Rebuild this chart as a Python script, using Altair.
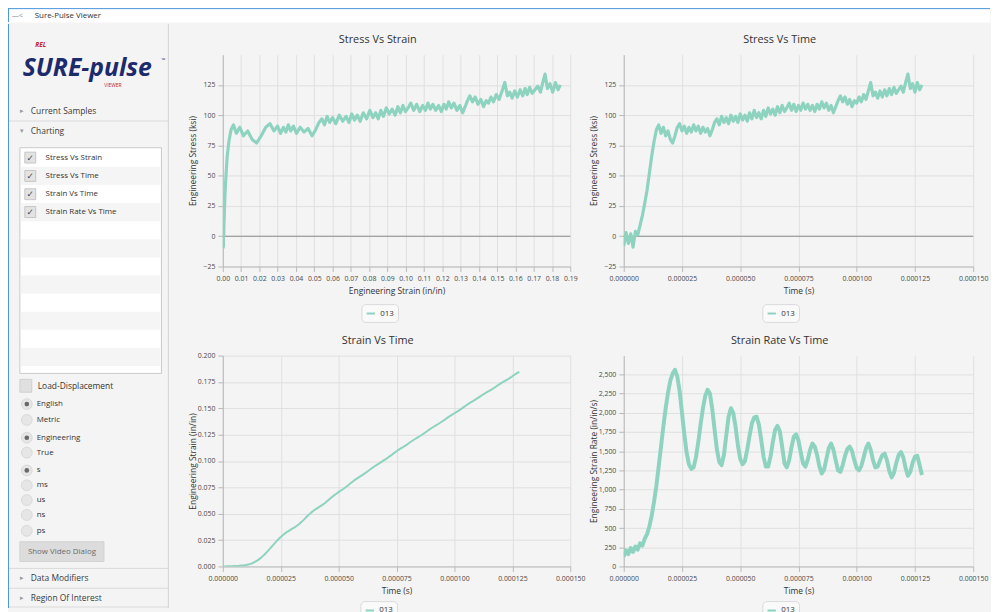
import altair as alt
import pandas as pd

FONT = "Open Sans"
SYMBOL_FONT = "DejaVu Sans"
LINE_COLOR = "#8dd3bf"
BG = "#f4f4f4"

series_name = "013"

# ---------------- data ----------------
time_us = [
    0, 1, 2, 3, 4, 5, 6, 7, 8, 9,
    10, 11, 12, 13, 14, 15, 16, 17, 18, 19,
    20, 21, 22, 23, 24, 25, 26, 27, 28, 29,
    30, 31, 32, 33, 34, 35, 36, 37, 38, 39,
    40, 41, 42, 43, 44, 45, 46, 47, 48, 49,
    50, 51, 52, 53, 54, 55, 56, 57, 58, 59,
    60, 61, 62, 63, 64, 65, 66, 67, 68, 69,
    70, 71, 72, 73, 74, 75, 76, 77, 78, 79,
    80, 81, 82, 83, 84, 85, 86, 87, 88, 89,
    90, 91, 92, 93, 94, 95, 96, 97, 98, 99,
    100, 101, 102, 103, 104, 105, 106, 107, 108, 109,
    110, 111, 112, 113, 114, 115, 116, 117, 118, 119,
    120, 121, 122, 123, 124, 125, 126, 127, 128,
]

stress_ksi = [
    -8, 3, -6, 2, -9, 4, 1, 9, 17, 27,
    38, 52, 66, 78, 88, 92, 85, 90, 83, 87,
    80, 77, 83, 90, 93, 87, 91, 85, 90, 86,
    92, 87, 91, 85, 90, 86, 89, 83, 88, 94,
    97, 92, 99, 94, 98, 93, 100, 95, 99, 94,
    101, 96, 100, 95, 102, 97, 104, 98, 102, 97,
    104, 99, 106, 101, 105, 100, 107, 102, 108, 103,
    106, 110, 104, 109, 103, 108, 104, 110, 105, 109,
    104, 108, 103, 109, 105, 111, 106, 110, 104, 108,
    102, 107, 112, 116, 111, 115, 109, 113, 107, 112,
    110, 115, 111, 117, 113, 120, 127, 116, 119, 114,
    120, 115, 121, 116, 122, 117, 123, 118, 121, 124,
    119, 127, 134, 122, 126, 119, 127, 121, 125,
]

strain_in = [
    0.0000, 0.0000, 0.0001, 0.0002, 0.0003, 0.0004, 0.0005, 0.0006, 0.0008, 0.0010,
    0.0013, 0.0018, 0.0024, 0.0033, 0.0045, 0.0058, 0.0074, 0.0093, 0.0113, 0.0136,
    0.0160, 0.0185, 0.0210, 0.0235, 0.0258, 0.0280, 0.0299, 0.0316, 0.0331, 0.0345,
    0.0358, 0.0371, 0.0386, 0.0403, 0.0423, 0.0444, 0.0466, 0.0488, 0.0508, 0.0526,
    0.0542, 0.0556, 0.0570, 0.0584, 0.0600, 0.0618, 0.0637, 0.0656, 0.0674, 0.0690,
    0.0705, 0.0720, 0.0735, 0.0751, 0.0768, 0.0786, 0.0804, 0.0821, 0.0836, 0.0850,
    0.0864, 0.0878, 0.0894, 0.0910, 0.0926, 0.0942, 0.0957, 0.0971, 0.0985, 0.0999,
    0.1013, 0.1028, 0.1044, 0.1060, 0.1077, 0.1093, 0.1108, 0.1122, 0.1135, 0.1149,
    0.1164, 0.1180, 0.1195, 0.1209, 0.1222, 0.1235, 0.1249, 0.1264, 0.1280, 0.1296,
    0.1311, 0.1325, 0.1338, 0.1351, 0.1365, 0.1380, 0.1395, 0.1411, 0.1426, 0.1440,
    0.1453, 0.1466, 0.1480, 0.1495, 0.1511, 0.1527, 0.1542, 0.1556, 0.1569, 0.1582,
    0.1596, 0.1611, 0.1626, 0.1640, 0.1653, 0.1665, 0.1678, 0.1692, 0.1707, 0.1722,
    0.1737, 0.1750, 0.1762, 0.1775, 0.1789, 0.1804, 0.1819, 0.1833, 0.1846,
]

strain_rate = [
    130, 210, 160, 240, 190, 260, 220, 300, 270, 360,
    420, 520, 660, 840, 1050, 1300, 1560, 1820, 2060, 2260,
    2420, 2510, 2560, 2470, 2280, 2000, 1720, 1480, 1330, 1270,
    1290, 1420, 1620, 1850, 2060, 2220, 2300, 2250, 2050, 1780,
    1520, 1360, 1320, 1450, 1700, 1950, 2060, 2000, 1820, 1580,
    1400, 1330, 1370, 1520, 1700, 1860, 1940, 1950, 1850, 1650,
    1430, 1300, 1300, 1430, 1620, 1780, 1830, 1760, 1560, 1340,
    1290, 1380, 1550, 1690, 1720, 1640, 1480, 1340, 1300, 1390,
    1520, 1600, 1560, 1450, 1300, 1210, 1260, 1400, 1540, 1600,
    1520, 1380, 1250, 1230, 1320, 1440, 1530, 1560, 1500, 1380,
    1280, 1250, 1310, 1420, 1540, 1600, 1520, 1380, 1290, 1300,
    1380, 1450, 1470, 1380, 1240, 1160, 1220, 1350, 1450, 1490,
    1420, 1280, 1180, 1230, 1350, 1430, 1440, 1320, 1190,
]

strain_ticks = [0.00, 0.01, 0.02, 0.03, 0.04, 0.05, 0.06, 0.07, 0.08, 0.09,
                0.10, 0.11, 0.12, 0.13, 0.14, 0.15, 0.16, 0.17, 0.18, 0.19]
time_ticks = [0.0, 0.000025, 0.00005, 0.000075, 0.0001, 0.000125, 0.00015]
stress_ticks = [-25, 0, 25, 50, 75, 100, 125]
strain_y_ticks = [0.0, 0.025, 0.05, 0.075, 0.1, 0.125, 0.15, 0.175, 0.2]
rate_ticks = [0, 250, 500, 750, 1000, 1250, 1500, 1750, 2000, 2250, 2500]

chart_titles = ["Stress Vs Strain", "Stress Vs Time", "Strain Vs Time", "Strain Rate Vs Time"]

# sidebar contents
sb_headers = ["Current Samples", "Charting", "Data Modifiers", "Region Of Interest"]
sb_header_open = [False, True, False, False]
sb_chart_items = ["Stress Vs Strain", "Stress Vs Time", "Strain Vs Time", "Strain Rate Vs Time"]
sb_options = ["English", "Metric", "Engineering", "True", "s", "ms", "us", "ns", "ps"]
sb_option_on = [True, False, True, False, True, False, False, False, False]
window_title = "Sure-Pulse Viewer"

samples = pd.DataFrame({
    "t": [v / 1e6 for v in time_us],
    "stress": stress_ksi,
    "strain": strain_in,
    "rate": strain_rate,
    "sample": series_name,
})


# ---------------- chart panels ----------------
def panel(xf, yf, x_title, y_title, x_dom, y_dom, x_vals, y_vals, x_fmt, y_fmt,
          title, w, h, legend_xy, zero=False, sw=2.0, title_offset=10):
    xenc = alt.X(f"{xf}:Q", title=x_title,
                 scale=alt.Scale(domain=x_dom, nice=False, zero=False),
                 axis=alt.Axis(values=x_vals, format=x_fmt, labelOverlap=False,
                               labelFlush=False, labelPadding=3, titlePadding=5))
    yenc = alt.Y(f"{yf}:Q", title=y_title,
                 scale=alt.Scale(domain=y_dom, nice=False, zero=False),
                 axis=alt.Axis(values=y_vals, format=y_fmt, labelOverlap=False,
                               labelFlush=False, labelPadding=3,
                               minExtent=22, maxExtent=22, titlePadding=4))
    line = alt.Chart(samples).mark_line(strokeWidth=sw, clip=True, strokeJoin="round").encode(
        x=xenc,
        y=yenc,
        order=alt.Order("t:Q"),
        color=alt.Color("sample:N",
                        scale=alt.Scale(domain=[series_name], range=[LINE_COLOR]),
                        legend=alt.Legend(title=None, orient="none",
                                          legendX=legend_xy[0], legendY=legend_xy[1],
                                          direction="horizontal", symbolType="stroke",
                                          symbolStrokeWidth=2, symbolSize=70,
                                          labelFont=FONT, labelFontSize=8, labelColor="#333333",
                                          fillColor="#fafafa", strokeColor="#dadada",
                                          cornerRadius=4, padding=4)),
    )
    layers = []
    if zero:
        zdf = pd.DataFrame({yf: [0]})
        layers.append(alt.Chart(zdf).mark_rule(color="#8c8c8c", strokeWidth=1.2).encode(y=yenc))
    layers.append(line)
    return alt.layer(*layers).properties(
        width=w, height=h,
        title=alt.TitleParams(text=title, anchor="middle", frame="group", dx=-19, offset=title_offset,
                              font=FONT, fontSize=11, fontWeight="normal", color="#333333"),
        view=alt.ViewBackground(stroke="transparent"),
    )


c1 = panel("strain", "stress", "Engineering Strain (in/in)", "Engineering Stress (ksi)",
           [0, 0.19], [-25, 150], strain_ticks, stress_ticks, ".2f", "d",
           chart_titles[0], 351, 214, (140, 252), zero=True, sw=3.2)
c2 = panel("t", "stress", "Time (s)", "Engineering Stress (ksi)",
           [0, 0.00015], [-25, 150], time_ticks, stress_ticks, ".6f", "d",
           chart_titles[1], 353, 214, (140, 252), zero=True, sw=3.2)
c3 = panel("t", "strain", "Time (s)", "Engineering Strain (in/in)",
           [0, 0.00015], [0, 0.2], time_ticks, strain_y_ticks, ".6f", ".3f",
           chart_titles[2], 351, 213, (139, 248), sw=2.0, title_offset=6)
c4 = panel("t", "rate", "Time (s)", "Engineering Strain Rate (in/in/s)",
           [0, 0.00015], [0, 2745], time_ticks, rate_ticks, ".6f", ",d",
           chart_titles[3], 353, 213, (140, 248), sw=4.0)

grid = alt.concat(c1, c2, c3, c4, columns=2, bounds="flush",
                  spacing={"row": 90, "column": 54}).resolve_scale(
    color="independent").resolve_legend(color="independent")

# ---------------- sidebar (UI chrome) ----------------
SB_W, SB_H = 162, 590
SB_ABOVE = 31          # part of the sidebar drawn above the first chart row's plot area
header_y = [88, 108, 560, 580]
item_y = [135, 153.5, 172, 190]
option_y = [384, 400, 418, 433, 451, 466, 481, 496, 512]


def sbx(f="x"):
    return alt.X(f"{f}:Q", scale=alt.Scale(domain=[0, SB_W], range=[0, SB_W], nice=False, zero=False), axis=None)


def sby(f="y"):
    return alt.Y(f"{f}:Q", scale=alt.Scale(domain=[0, SB_H], range=[-SB_ABOVE, SB_H - SB_ABOVE],
                                           nice=False, zero=False), axis=None)


rects = [dict(x=12, x2=155, y=125, y2=353, fill="#ffffff", stroke="#c9c9c9")]
row_h = 18.3
for i in range(12):
    if i % 2 == 1:
        top = 126 + i * row_h
        rects.append(dict(x=13, x2=154, y=top, y2=min(top + row_h, 352), fill="#f5f5f5", stroke="transparent"))
for yy in item_y:
    rects.append(dict(x=17, x2=28, y=yy - 5.5, y2=yy + 5.5, fill="#e3e3e3", stroke="#c4c4c4"))
rects.append(dict(x=12, x2=24, y=359, y2=372, fill="#e0e0e0", stroke="#d0d0d0"))
rects.append(dict(x=12, x2=97, y=523, y2=543, fill="#dcdcdc", stroke="#d2d2d2"))
rect_df = pd.DataFrame(rects)

rules = [dict(x=0, x2=SB_W, y=yy, y2=yy, c="#dadada") for yy in [98, 550, 570, 589]]
rules.append(dict(x=SB_W, x2=SB_W, y=0, y2=SB_H, c="#d2d2d2"))
rules.append(dict(x=0.5, x2=0.5, y=0, y2=SB_H, c="#4a95de"))
rule_df = pd.DataFrame(rules)

radio_df = pd.DataFrame({"x": [19] * len(option_y), "y": option_y})
dot_df = pd.DataFrame({"x": [19 for o in sb_option_on if o],
                       "y": [yy for yy, o in zip(option_y, sb_option_on) if o]})

texts = []
for lab, yy in zip(sb_headers, header_y):
    texts.append(dict(text=lab, x=23, y=yy, fs=8.5, c="#3a3a3a"))
for lab, yy in zip(sb_chart_items, item_y):
    texts.append(dict(text=lab, x=38, y=yy, fs=8, c="#333333"))
texts.append(dict(text="Load-Displacement", x=30, y=365.5, fs=8.5, c="#333333"))
for lab, yy in zip(sb_options, option_y):
    texts.append(dict(text=lab, x=29, y=yy, fs=8, c="#333333"))
text_df = pd.DataFrame(texts)

sym = []
for op, yy in zip(sb_header_open, header_y):
    sym.append(dict(text="▾" if op else "▸", x=14, y=yy, fs=7, c="#9a9a9a"))
for yy in item_y:
    sym.append(dict(text="✓", x=22.5, y=yy, fs=9, c="#444444"))
sym_df = pd.DataFrame(sym)

center_df = pd.DataFrame([
    dict(text="Show Video Dialog", x=54.5, y=533, fs=8, c="#6a6a6a"),
    dict(text="VIEWER", x=106, y=62, fs=5, c="#c4262e"),
    dict(text="™", x=157, y=36, fs=5, c="#1d2a6b"),
])
logo_df = pd.DataFrame([
    dict(text="SURE-pulse", x=80, y=45, fs=25, c="#1d2a6b"),
    dict(text="REL", x=33, y=21, fs=6.5, c="#c4262e"),
])

sb_rect = alt.Chart(rect_df).mark_rect(strokeWidth=1).encode(
    x=sbx(), x2="x2:Q", y=sby(), y2="y2:Q",
    fill=alt.Fill("fill:N", scale=None), stroke=alt.Stroke("stroke:N", scale=None))
sb_rule = alt.Chart(rule_df).mark_rule(strokeWidth=1).encode(
    x=sbx(), x2="x2:Q", y=sby(), y2="y2:Q", color=alt.Color("c:N", scale=None))
sb_radio = alt.Chart(radio_df).mark_point(filled=True, shape="circle", size=120, color="#e1e1e1",
                                          stroke="#c6c6c6", strokeWidth=0.8).encode(x=sbx(), y=sby())
sb_dot = alt.Chart(dot_df).mark_point(filled=True, shape="circle", size=22, color="#333333").encode(
    x=sbx(), y=sby())
sb_text = alt.Chart(text_df).mark_text(align="left", baseline="middle", font=FONT).encode(
    x=sbx(), y=sby(), text="text:N", size=alt.Size("fs:Q", scale=None), color=alt.Color("c:N", scale=None))
sb_sym = alt.Chart(sym_df).mark_text(align="center", baseline="middle", font=SYMBOL_FONT).encode(
    x=sbx(), y=sby(), text="text:N", size=alt.Size("fs:Q", scale=None), color=alt.Color("c:N", scale=None))
sb_center = alt.Chart(center_df).mark_text(align="center", baseline="middle", font=FONT).encode(
    x=sbx(), y=sby(), text="text:N", size=alt.Size("fs:Q", scale=None), color=alt.Color("c:N", scale=None))
sb_logo = alt.Chart(logo_df).mark_text(align="center", baseline="middle", font=FONT,
                                       fontWeight="bold", fontStyle="italic").encode(
    x=sbx(), y=sby(), text="text:N", size=alt.Size("fs:Q", scale=None), color=alt.Color("c:N", scale=None))

sidebar = alt.layer(sb_rect, sb_rule, sb_radio, sb_dot, sb_text, sb_sym, sb_center, sb_logo).properties(
    width=SB_W, height=SB_H - SB_ABOVE, view=alt.ViewBackground(stroke="transparent"))

# ---------------- title bar ----------------
TB_W, TB_H = 992, 14


def tbx(f="x"):
    return alt.X(f"{f}:Q", scale=alt.Scale(domain=[0, TB_W], range=[0, TB_W], nice=False, zero=False), axis=None)


def tby(f="y"):
    return alt.Y(f"{f}:Q", scale=alt.Scale(domain=[0, TB_H], range=[0, TB_H], nice=False, zero=False), axis=None)


tb_rule_df = pd.DataFrame([dict(x=0, x2=TB_W, y=0.5, y2=0.5), dict(x=0.5, x2=0.5, y=0, y2=TB_H)])
tb_text_df = pd.DataFrame([dict(text="—<", x=4, y=7.5, fs=7, c="#8a8a8a"),
                           dict(text=window_title, x=27, y=7.5, fs=8, c="#333333")])
tb_rule = alt.Chart(tb_rule_df).mark_rule(color="#4a95de", strokeWidth=1).encode(
    x=tbx(), x2="x2:Q", y=tby(), y2="y2:Q")
tb_text = alt.Chart(tb_text_df).mark_text(align="left", baseline="middle", font=FONT).encode(
    x=tbx(), y=tby(), text="text:N", size=alt.Size("fs:Q", scale=None), color=alt.Color("c:N", scale=None))
titlebar = alt.layer(tb_rule, tb_text).properties(
    width=TB_W, height=TB_H, view=alt.ViewBackground(fill="#ffffff", stroke="transparent"))

body = alt.hconcat(sidebar, grid, spacing=18)

chart = alt.vconcat(titlebar, body, spacing=0).properties(
    padding={"top": -4, "left": -1, "right": 0, "bottom": 0}, background=BG
).configure_axis(
    labelFont=FONT, titleFont=FONT, labelFontSize=7, titleFontSize=8.5,
    labelColor="#4a4a4a", titleColor="#333333", titleFontWeight="normal",
    domainColor="#b8b8b8", tickColor="#b8b8b8", tickSize=5,
    gridColor="#e0e0e0", gridWidth=1,
).configure_view(stroke="transparent")

chart.save("out.html", embed_options={"renderer": "svg", "actions": False})
